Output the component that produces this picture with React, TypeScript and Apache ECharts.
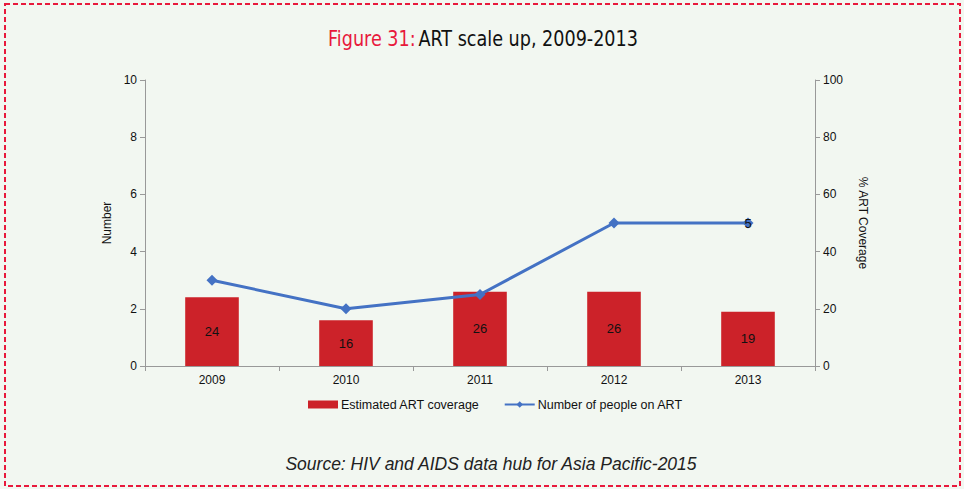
import React, { useEffect, useRef } from "react";
import * as echarts from "echarts";

const categories = ["2009", "2010", "2011", "2012", "2013"];
const coverage = [24, 16, 26, 26, 19];
const peopleOnArt = [3, 2, 2.5, 5, 5];
const leftTicks = [0, 2, 4, 6, 8, 10];
const rightTicks = [0, 20, 40, 60, 80, 100];

export default function App() {
  const ref = useRef<HTMLDivElement>(null);
  useEffect(() => {
    const chart = echarts.init(ref.current!, null, { renderer: "svg" });
    const font = "Liberation Sans";
    const titleFont = "DejaVu Sans";
    chart.setOption({
      animation: false,
      backgroundColor: "#f2f7f1",
      textStyle: { fontFamily: font },
      graphic: [
        {
          type: "rect",
          shape: { x: 5, y: 4, width: 955, height: 482 },
          style: { fill: "none", stroke: "#e8193c", lineWidth: 2, lineDash: [5, 3] },
          silent: true,
        },
        {
          type: "group",
          x: 483,
          y: 39,
          scaleX: 0.8,
          children: [
            {
              type: "text",
              x: 0,
              y: 0,
              style: {
                text: "{r|Figure 31:} {b|ART scale up, 2009-2013}",
                align: "center",
                verticalAlign: "middle",
                rich: {
                  r: { fill: "#e8193c", fontSize: 22, fontFamily: titleFont },
                  b: { fill: "#111", fontSize: 22, fontFamily: titleFont },
                },
              },
            },
          ],
        },
        {
          type: "text",
          x: 491,
          y: 464,
          style: {
            text: "Source: HIV and AIDS data hub for Asia Pacific-2015",
            align: "center",
            verticalAlign: "middle",
            fill: "#222",
            fontSize: 17.5,
            fontStyle: "italic",
            fontFamily: font,
          },
        },
      ],
      grid: { left: 145, right: 149, top: 80, bottom: 123, containLabel: false },
      legend: {
        bottom: 73,
        left: 303,
        itemGap: 24,
        itemWidth: 30,
        itemHeight: 8,
        textStyle: { fontSize: 12.5, color: "#111", fontFamily: font, padding: [0, 0, 0, -2] },
        data: [
          { name: "Estimated ART coverage", icon: "rect" },
          { name: "Number of people on ART" },
        ],
      },
      xAxis: {
        type: "category",
        data: categories,
        boundaryGap: true,
        axisLine: { lineStyle: { color: "#999" } },
        axisTick: { show: true, alignWithLabel: false, length: 5, lineStyle: { color: "#999" } },
        axisLabel: { color: "#111", fontSize: 12, margin: 8, fontFamily: font },
      },
      yAxis: [
        {
          type: "value",
          min: 0,
          max: 10,
          interval: 2,
          name: "Number",
          nameLocation: "middle",
          nameGap: 28,
          nameTextStyle: { color: "#111", fontSize: 12, fontFamily: font },
          axisLine: { show: true, lineStyle: { color: "#999" } },
          axisTick: { show: true, length: 5, lineStyle: { color: "#999" } },
          axisLabel: { color: "#111", fontSize: 12, margin: 8, fontFamily: font },
          splitLine: { show: false },
        },
        {
          type: "value",
          min: 0,
          max: 100,
          interval: 20,
          name: "% ART Coverage",
          nameLocation: "middle",
          nameGap: 42,
          nameRotate: -90,
          nameTextStyle: { color: "#111", fontSize: 12, fontFamily: font },
          axisLine: { show: true, lineStyle: { color: "#999" } },
          axisTick: { show: true, length: 5, lineStyle: { color: "#999" } },
          axisLabel: { color: "#111", fontSize: 12, margin: 8, fontFamily: font },
          splitLine: { show: false },
        },
      ],
      series: [
        {
          name: "Estimated ART coverage",
          type: "bar",
          yAxisIndex: 1,
          data: coverage,
          barWidth: "40%",
          itemStyle: { color: "#cc2229" },
          label: { show: true, position: "inside", color: "#111", fontSize: 13, fontFamily: font },
        },
        {
          name: "Number of people on ART",
          type: "line",
          yAxisIndex: 0,
          data: peopleOnArt.map((v, i) =>
            i === peopleOnArt.length - 1
              ? { value: v, label: { show: true, position: "inside", color: "#111", fontSize: 13, fontFamily: font } }
              : v
          ),
          symbol: "diamond",
          symbolSize: 11,
          lineStyle: { color: "#4472c4", width: 3 },
          itemStyle: { color: "#4472c4" },
        },
      ],
    });
    return () => chart.dispose();
  }, []);
  return (
    <div
      ref={ref}
      style={{ position: "fixed", left: 0, top: 0, width: 964, height: 489 }}
    />
  );
}
